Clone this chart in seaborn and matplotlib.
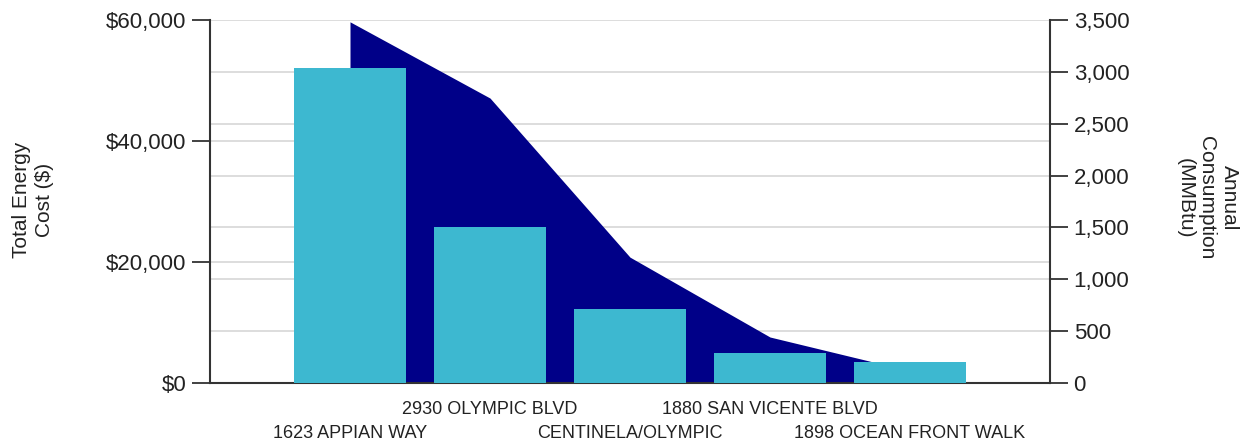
import numpy as np
import matplotlib
matplotlib.use("Agg")
import matplotlib.pyplot as plt
import seaborn as sns
from matplotlib.ticker import FixedLocator, FixedFormatter, FuncFormatter

# building names, in order of the chart
buildings = ["1623 APPIAN WAY", "2930 OLYMPIC BLVD", "CENTINELA/OLYMPIC",
             "1880 SAN VICENTE BLVD", "1898 OCEAN FRONT WALK"]
# total energy cost ($) - dark area
total_cost = [59700, 47100, 20800, 7600, 2000]
# annual consumption (MMBtu) - bars
consumption = [3035, 1505, 715, 290, 200]

cost_ticks = [0, 20000, 40000, 60000]
mmbtu_ticks = [0, 500, 1000, 1500, 2000, 2500, 3000, 3500]

navy = "#000088"
cyan = "#3db8d0"
grid_col = "#dddddd"
text_col = "#222222"

sns.set_style("white")
plt.rcParams["font.family"] = ["Liberation Sans", "DejaVu Sans"]

fig = plt.figure(figsize=(12.41, 4.44), dpi=100)
ax = fig.add_axes([210 / 1241, 1 - 383 / 444, 840 / 1241, 363 / 444])
ax2 = ax.twinx()

# area (left axis)
x = np.arange(len(buildings))
ax.fill_between(x, total_cost, color=navy, linewidth=0, zorder=2)

# bars (right axis)
sns.barplot(x=buildings, y=consumption, ax=ax2, color=cyan, width=0.8,
            saturation=1, linewidth=0)

# y scales
ax.set_ylim(0, 60000)
ax2.set_ylim(0, 3500)
ax.set_yticks(cost_ticks)
ax.yaxis.set_major_formatter(FuncFormatter(lambda v, p: "${:,.0f}".format(v)))
ax2.set_yticks(mmbtu_ticks)
ax2.yaxis.set_major_formatter(FuncFormatter(lambda v, p: "{:,.0f}".format(v)))

# gridlines for both axes, drawn behind the area
ax.yaxis.set_minor_locator(FixedLocator([t * 60000 / 3500 for t in mmbtu_ticks]))
ax.grid(True, which="both", axis="y", color=grid_col, linewidth=1.4)
ax.set_axisbelow(True)
ax.tick_params(axis="y", which="minor", length=0)

# x axis: even categories on the lower row (major), odd on the upper row (minor)
ax.set_xlim(-1, len(buildings))
lower = [i for i in x if i % 2 == 0]
upper = [i for i in x if i % 2 == 1]
ax.xaxis.set_major_locator(FixedLocator(lower))
ax.xaxis.set_major_formatter(FixedFormatter([buildings[i] for i in lower]))
ax.xaxis.set_minor_locator(FixedLocator(upper))
ax.xaxis.set_minor_formatter(FixedFormatter([buildings[i] for i in upper]))
ax.tick_params(axis="x", which="major", length=4, width=1.3, pad=26,
               colors="#333333", labelcolor=text_col, labelsize=13)
ax.tick_params(axis="x", which="minor", length=4, width=1.3, pad=9,
               colors="#333333", labelcolor=text_col, labelsize=13)
ax.set_xlabel("")
ax2.set_xlabel("")
ax2.set_ylabel("")

ax.tick_params(axis="y", which="major", length=13, width=1.3, direction="out",
               labelsize=16, colors="#333333", labelcolor=text_col, pad=4)
ax2.tick_params(axis="y", length=13, width=1.3, direction="out",
                labelsize=16, colors="#333333", labelcolor=text_col, pad=4)

for s in ["top", "right"]:
    ax.spines[s].set_visible(False)
for s in ["top", "left", "bottom"]:
    ax2.spines[s].set_visible(False)
for sp in [ax.spines["left"], ax.spines["bottom"], ax2.spines["right"]]:
    sp.set_color("#333333")
    sp.set_linewidth(1.5)

fig.text(33 / 1241, 1 - 200 / 444, "Total Energy\nCost ($)", rotation=90,
         ha="center", va="center", fontsize=15, color=text_col)
fig.text(1207 / 1241, 1 - 198 / 444, "Annual\nConsumption\n(MMBtu)", rotation=270,
         ha="center", va="center", fontsize=15, color=text_col,
         multialignment="center")

fig.savefig("out.png", dpi=100)
